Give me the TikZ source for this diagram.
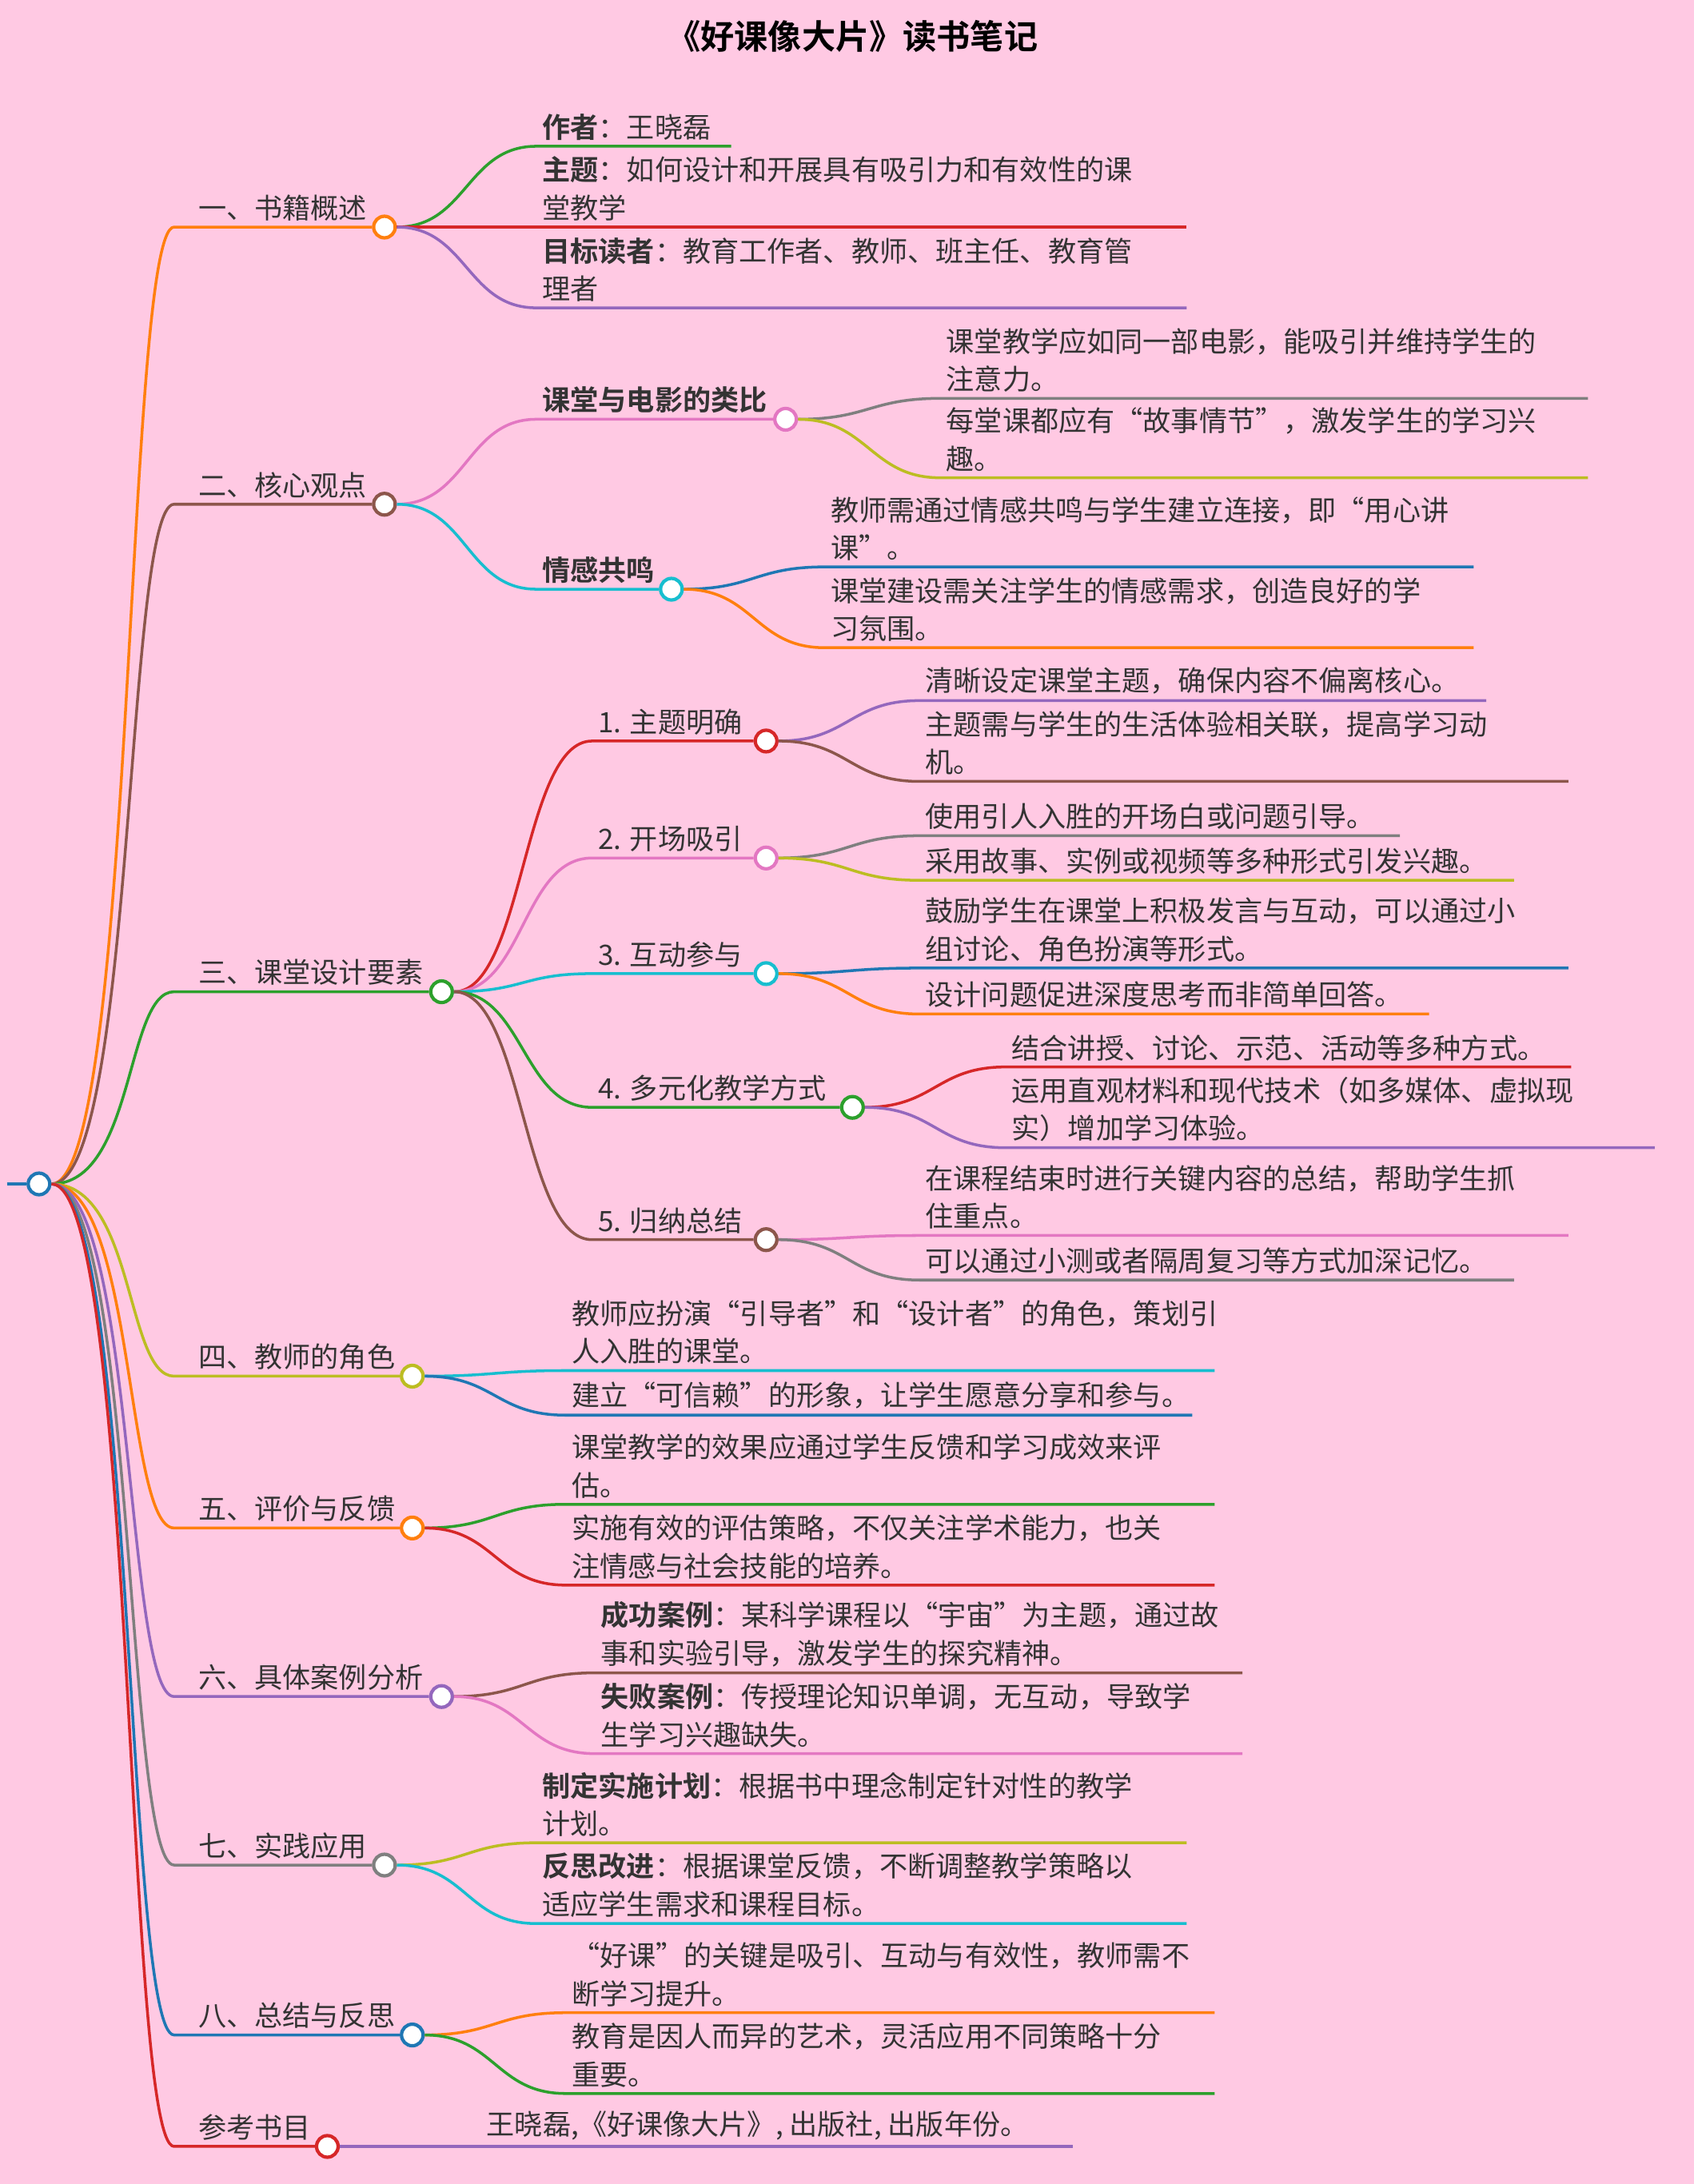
\documentclass[tikz,border=0pt]{standalone}
\usepackage{fontspec}
\setmainfont{Noto Sans CJK SC}[BoldFont={Noto Sans CJK SC Bold}]
\usetikzlibrary{positioning}
\definecolor{bgpink}{HTML}{FFC9E3}
\definecolor{cOrange}{HTML}{FF7F0E}
\definecolor{cGreen}{HTML}{2CA02C}
\definecolor{cRed}{HTML}{D62728}
\definecolor{cPurple}{HTML}{9467BD}
\definecolor{cBrown}{HTML}{8C564B}
\definecolor{cPink}{HTML}{E377C2}
\definecolor{cGray}{HTML}{7F7F7F}
\definecolor{cYellow}{HTML}{BCBD22}
\definecolor{cCyan}{HTML}{17BECF}
\definecolor{cBlue}{HTML}{1F77B4}
\tikzset{
    branch/.style={line width=1pt},
    dot/.style={circle,draw=#1,fill=white,line width=1.2pt,minimum size=0.27cm,inner sep=0pt},
    label text/.style={font=\fontsize{10}{13.5}\selectfont,text=black!80,align=left,inner sep=2pt,anchor=south west},
}
% leaf: name, parent, colour, start x, y, end x, text
\newcommand\leafnode[7]{%
    \coordinate (#1s) at (#4,#5);
    \coordinate (#1e) at (#6,#5);
    \draw[#3,branch] (#2.east) .. controls +(50,0) and +(-50,0) .. (#1s) -- (#1e);
    \node[label text] (#1) at (#1s) {#7};
}
% middle: name, parent, colour, start x, y, circle x, text
\newcommand\midnode[7]{%
    \coordinate (#1s) at (#4,#5);
    \node[dot=#3] (#1) at (#6,#5) {};
    \draw[#3,branch] (#2.east) .. controls +(50,0) and +(-50,0) .. (#1s) -- (#1.west);
    \node[label text] (#1t) at (#1s) {#7};
}
% topic: name, colour, y, circle x, text
\newcommand\topicnode[5]{%
    \coordinate (#1s) at (125,#3);
    \node[dot=#2] (#1) at (#4,#3) {};
    \draw[#2,branch] (root.east) .. controls +(60,0) and +(-35,0) .. (#1s) -- (#1.west);
    \node[label text] (#1t) at (138,#3) {#5};
}
\begin{document}
\begin{tikzpicture}[x=0.01742cm,y=-0.01742cm]
    \fill[bgpink] (0,0) rectangle (1216,1568);
    \useasboundingbox (0,0) rectangle (1216,1568);
    \node[font=\fontsize{12}{14}\selectfont\bfseries] (title) at (612,26) {《好课像大片》读书笔记};

    \node[dot=cBlue] (root) at (28,850) {};
    \coordinate (rootin) at (5,850);
    \draw[cBlue,branch] (rootin) -- (root.west);

    \topicnode{b1}{cOrange}{163}{276}{一、书籍概述}
    \leafnode{b1a}{b1}{cGreen}{385}{105}{525}{\textbf{作者}：王晓磊}
    \leafnode{b1b}{b1}{cRed}{385}{163}{852}{\textbf{主题}：如何设计和开展具有吸引力和有效性的课\\堂教学}
    \leafnode{b1c}{b1}{cPurple}{385}{221}{852}{\textbf{目标读者}：教育工作者、教师、班主任、教育管\\理者}

    \topicnode{b2}{cBrown}{362}{276}{二、核心观点}
    \midnode{b2a}{b2}{cPink}{385}{301}{564}{\textbf{课堂与电影的类比}}
    \leafnode{b2a1}{b2a}{cGray}{675}{286}{1140}{课堂教学应如同一部电影，能吸引并维持学生的\\注意力。}
    \leafnode{b2a2}{b2a}{cYellow}{675}{343}{1140}{每堂课都应有“故事情节”，激发学生的学习兴\\趣。}
    \midnode{b2b}{b2}{cCyan}{385}{423}{482}{\textbf{情感共鸣}}
    \leafnode{b2b1}{b2b}{cBlue}{592}{407}{1058}{教师需通过情感共鸣与学生建立连接，即“用心讲\\课”。}
    \leafnode{b2b2}{b2b}{cOrange}{592}{465}{1058}{课堂建设需关注学生的情感需求，创造良好的学\\习氛围。}

    \topicnode{b3}{cGreen}{712}{317}{三、课堂设计要素}
    \midnode{b3a}{b3}{cRed}{425}{532}{550}{1. 主题明确}
    \leafnode{b3a1}{b3a}{cPurple}{660}{503}{1067}{清晰设定课堂主题，确保内容不偏离核心。}
    \leafnode{b3a2}{b3a}{cBrown}{660}{561}{1126}{主题需与学生的生活体验相关联，提高学习动\\机。}
    \midnode{b3b}{b3}{cPink}{425}{616}{550}{2. 开场吸引}
    \leafnode{b3b1}{b3b}{cGray}{660}{600}{1005}{使用引人入胜的开场白或问题引导。}
    \leafnode{b3b2}{b3b}{cYellow}{660}{632}{1087}{采用故事、实例或视频等多种形式引发兴趣。}
    \midnode{b3c}{b3}{cCyan}{425}{699}{550}{3. 互动参与}
    \leafnode{b3c1}{b3c}{cBlue}{660}{695}{1126}{鼓励学生在课堂上积极发言与互动，可以通过小\\组讨论、角色扮演等形式。}
    \leafnode{b3c2}{b3c}{cOrange}{660}{728}{1026}{设计问题促进深度思考而非简单回答。}
    \midnode{b3d}{b3}{cGreen}{425}{795}{612}{4. 多元化教学方式}
    \leafnode{b3d1}{b3d}{cRed}{722}{766}{1128}{结合讲授、讨论、示范、活动等多种方式。}
    \leafnode{b3d2}{b3d}{cPurple}{722}{824}{1188}{运用直观材料和现代技术（如多媒体、虚拟现\\实）增加学习体验。}
    \midnode{b3e}{b3}{cBrown}{425}{890}{550}{5. 归纳总结}
    \leafnode{b3e1}{b3e}{cPink}{660}{887}{1126}{在课程结束时进行关键内容的总结，帮助学生抓\\住重点。}
    \leafnode{b3e2}{b3e}{cGray}{660}{919}{1087}{可以通过小测或者隔周复习等方式加深记忆。}

    \topicnode{b4}{cYellow}{988}{296}{四、教师的角色}
    \leafnode{b4a}{b4}{cCyan}{406}{984}{872}{教师应扮演“引导者”和“设计者”的角色，策划引\\人入胜的课堂。}
    \leafnode{b4b}{b4}{cBlue}{406}{1016}{856}{建立“可信赖”的形象，让学生愿意分享和参与。}

    \topicnode{b5}{cOrange}{1097}{296}{五、评价与反馈}
    \leafnode{b5a}{b5}{cGreen}{406}{1080}{872}{课堂教学的效果应通过学生反馈和学习成效来评\\估。}
    \leafnode{b5b}{b5}{cRed}{406}{1138}{872}{实施有效的评估策略，不仅关注学术能力，也关\\注情感与社会技能的培养。}

    \topicnode{b6}{cPurple}{1218}{317}{六、具体案例分析}
    \leafnode{b6a}{b6}{cBrown}{427}{1201}{892}{\textbf{成功案例}：某科学课程以“宇宙”为主题，通过故\\事和实验引导，激发学生的探究精神。}
    \leafnode{b6b}{b6}{cPink}{427}{1259}{892}{\textbf{失败案例}：传授理论知识单调，无互动，导致学\\生学习兴趣缺失。}

    \topicnode{b7}{cGray}{1339}{276}{七、实践应用}
    \leafnode{b7a}{b7}{cYellow}{385}{1323}{852}{\textbf{制定实施计划}：根据书中理念制定针对性的教学\\计划。}
    \leafnode{b7b}{b7}{cCyan}{385}{1381}{852}{\textbf{反思改进}：根据课堂反馈，不断调整教学策略以\\适应学生需求和课程目标。}

    \topicnode{b8}{cBlue}{1461}{296}{八、总结与反思}
    \leafnode{b8a}{b8}{cOrange}{406}{1445}{872}{“好课”的关键是吸引、互动与有效性，教师需不\\断学习提升。}
    \leafnode{b8b}{b8}{cGreen}{406}{1503}{872}{教育是因人而异的艺术，灵活应用不同策略十分\\重要。}

    \topicnode{b9}{cRed}{1541}{235}{参考书目}
    \leafnode{b9a}{b9}{cPurple}{345}{1541}{770}{王晓磊,《好课像大片》, 出版社, 出版年份。}
\end{tikzpicture}
\end{document}
